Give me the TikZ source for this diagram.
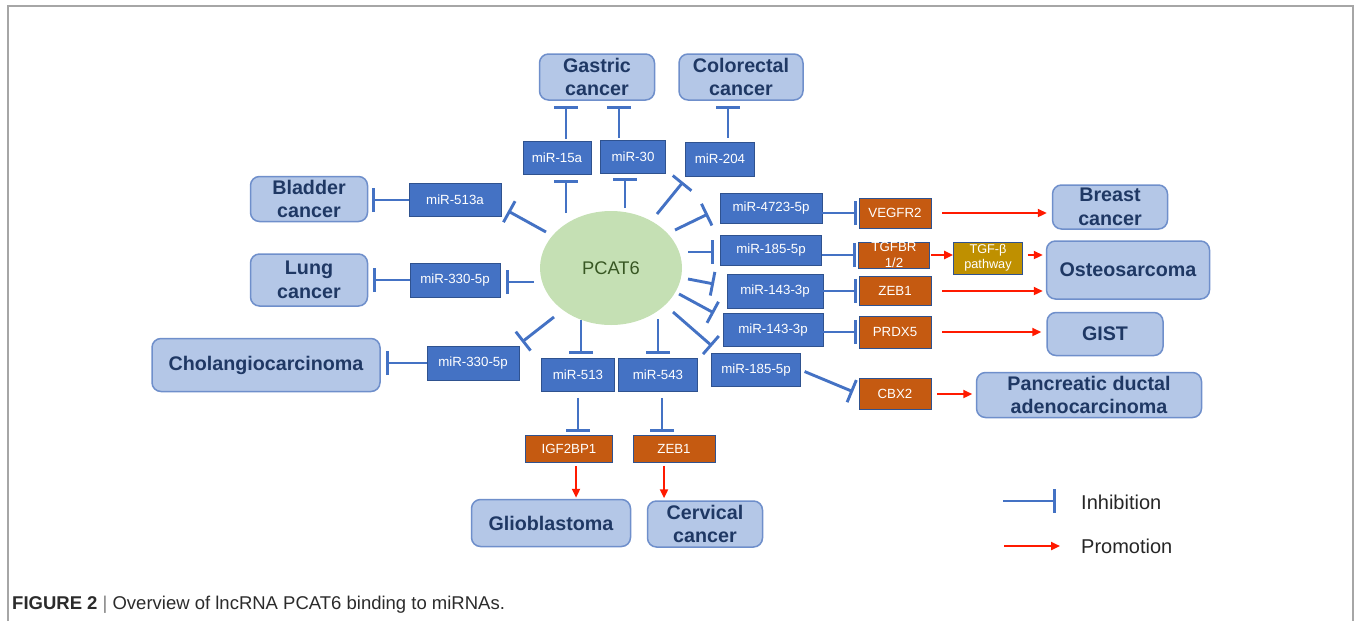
\documentclass[tikz,border=0pt]{standalone}
\usepackage{fontspec}
\setmainfont{Liberation Sans}
\usetikzlibrary{arrows.meta,shapes.geometric,calc}
\definecolor{mirblue}{HTML}{4472C4}
\definecolor{mirborder}{HTML}{2F528F}
\definecolor{orangebox}{HTML}{C55A11}
\definecolor{goldbox}{HTML}{BF9000}
\definecolor{disfill}{HTML}{B4C7E7}
\definecolor{disborder}{HTML}{6F8FCB}
\definecolor{navy}{HTML}{1F3864}
\definecolor{pcatfill}{HTML}{C5E0B4}
\definecolor{pcattext}{HTML}{385723}
\definecolor{framegray}{HTML}{A6A6A6}
\definecolor{promred}{HTML}{FF1A00}
\definecolor{inhblue}{HTML}{4472C4}
\definecolor{legtext}{HTML}{262626}
\definecolor{captext}{HTML}{2B2B2B}
\tikzset{
  sz/.style 2 args={minimum width=#1pt, minimum height=#2pt},
  mir/.style={rectangle, fill=mirblue, draw=mirborder, line width=0.8pt, text=white,
    font=\fontsize{13.3}{16}\selectfont, inner sep=0pt},
  gene/.style={mir, fill=orangebox, draw=mirborder},
  pathbox/.style={mir, fill=goldbox, draw=mirborder, font=\fontsize{12.7}{15}\selectfont, align=center},
  dis/.style={rectangle, rounded corners=9pt, fill=disfill, draw=disborder, line width=1.5pt,
    text=navy, font=\fontsize{19.7}{23.5}\selectfont\bfseries, align=center, inner sep=0pt},
  inh/.style={draw=inhblue, line width=2.9pt, -{Bar[width=24pt]}},
  promo/.style={draw=promred, line width=2.2pt, -{Triangle[length=9pt,width=8pt]}},
  legtxt/.style={anchor=west, text=legtext, font=\fontsize{20}{24}\selectfont, inner sep=0pt}
}
\begin{document}
\begin{tikzpicture}[x=1pt,y=-1pt]
\useasboundingbox (0,0) rectangle (1356,621);
% frame
\draw[framegray, line width=2pt] (8,621) -- (8,6) -- (1353,6) -- (1353,621);

% central node
\node[ellipse, fill=pcatfill, minimum width=142pt, minimum height=114pt, inner sep=0pt,
  text=pcattext, font=\fontsize{18.3}{20}\selectfont] (pcat) at (611,268) {PCAT6};

% disease boxes
\node[dis, sz={115}{46}] (gastric) at (597,77) {Gastric\\cancer};
\node[dis, sz={124}{46}] (colorectal) at (741,77) {Colorectal\\cancer};
\node[dis, sz={117}{45}] (bladder) at (309,199) {Bladder\\cancer};
\node[dis, sz={117}{52}] (lung) at (309,280) {Lung\\cancer};
\node[dis, sz={228}{53}] (cholangio) at (266,365) {Cholangiocarcinoma};
\node[dis, sz={115}{44}] (breast) at (1110,207) {Breast\\cancer};
\node[dis, sz={163}{58}] (osteo) at (1128,270) {Osteosarcoma};
\node[dis, sz={116}{43}] (gist) at (1105,334) {GIST};
\node[dis, sz={225}{45}] (pancreatic) at (1089,395) {Pancreatic ductal\\adenocarcinoma};
\node[dis, sz={159}{47}] (glio) at (551,523) {Glioblastoma};
\node[dis, sz={115}{46}] (cervical) at (705,524) {Cervical\\cancer};

% miRNA boxes
\node[mir, sz={68}{33}] (m15a) at (557,158) {miR-15a};
\node[mir, sz={65}{33}] (m30) at (633,157) {miR-30};
\node[mir, sz={69}{34}] (m204) at (720,159) {miR-204};
\node[mir, sz={102}{30}] (m4723) at (771,208) {miR-4723-5p};
\node[mir, sz={101}{30}] (m185a) at (771,250) {miR-185-5p};
\node[mir, sz={96}{34}] (m143a) at (775,291) {miR-143-3p};
\node[mir, sz={100}{33}] (m143b) at (773,330) {miR-143-3p};
\node[mir, sz={89}{33}] (m185b) at (756,370) {miR-185-5p};
\node[mir, sz={92}{33}] (m513a) at (455,200) {miR-513a};
\node[mir, sz={90}{34}] (m330a) at (455,280) {miR-330-5p};
\node[mir, sz={92}{34}] (m330b) at (473,363) {miR-330-5p};
\node[mir, sz={73}{33}] (m513) at (578,375) {miR-513};
\node[mir, sz={79}{33}] (m543) at (658,375) {miR-543};

% gene boxes
\node[gene, sz={72}{30}] (vegfr2) at (895,213) {VEGFR2};
\node[gene, sz={71}{26}, align=center, font=\fontsize{13.3}{15.5}\selectfont] (tgfbr) at (894,255) {TGFBR\\1/2};
\node[gene, sz={72}{29}] (zeb1r) at (895,291) {ZEB1};
\node[gene, sz={72}{32}] (prdx5) at (895,332) {PRDX5};
\node[gene, sz={72}{31}] (cbx2) at (895,394) {CBX2};
\node[gene, sz={87}{27}] (igf2bp1) at (569,449) {IGF2BP1};
\node[gene, sz={82}{27}] (zeb1b) at (674,449) {ZEB1};
\node[pathbox, sz={69}{32}] (tgfb) at (988,258) {TGF-β\\pathway};

% coordinates for connectors leaving PCAT6
\coordinate (s15a) at (566,213);  \coordinate (e15a) at (566,180);
\coordinate (s30) at (625,208);   \coordinate (e30) at (625,178);
\coordinate (s204) at (657,214);  \coordinate (e204) at (683,182);
\coordinate (s4723) at (675,230); \coordinate (e4723) at (708,214);
\coordinate (s185a) at (688,252); \coordinate (e185a) at (714,252);
\coordinate (s143a) at (688,279); \coordinate (e143a) at (714,284);
\coordinate (s143b) at (679,294); \coordinate (e143b) at (714,313);
\coordinate (s185b) at (673,312); \coordinate (e185b) at (712,346);
\coordinate (s513a) at (546,232); \coordinate (e513a) at (508,211);
\coordinate (s330a) at (534,282); \coordinate (e330a) at (506,282);
\coordinate (s330b) at (554,317); \coordinate (e330b) at (522,342);
\coordinate (s513) at (581,320);  \coordinate (e513) at (581,354);
\coordinate (s543) at (658,319);  \coordinate (e543) at (658,354);

\draw[inh] (s15a) -- (e15a);
\draw[inh] (s30) -- (e30);
\draw[inh] (s204) -- (e204);
\draw[inh] (s4723) -- (e4723);
\draw[inh] (s185a) -- (e185a);
\draw[inh] (s143a) -- (e143a);
\draw[inh] (s143b) -- (e143b);
\draw[inh] (s185b) -- (e185b);
\draw[inh] (s513a) -- (e513a);
\draw[inh] (s330a) -- (e330a);
\draw[inh] (s330b) -- (e330b);
\draw[inh] (s513) -- (e513);
\draw[inh] (s543) -- (e543);

% miRNA -> target inhibitions
\draw[inh, shorten <=2pt, shorten >=5pt] ([xshift=9pt]m15a.north) -- ([xshift=9pt]m15a.north |- gastric.south);
\draw[inh, shorten <=2pt, shorten >=5pt] ([xshift=-14pt]m30.north) -- ([xshift=-14pt]m30.north |- gastric.south);
\draw[inh, shorten <=4pt, shorten >=5pt] ([xshift=8pt]m204.north) -- ([xshift=8pt]m204.north |- colorectal.south);
\draw[inh, shorten >=2pt] (m4723.east |- vegfr2) -- (vegfr2.west);
\draw[inh, shorten >=2pt] (m185a.east |- tgfbr) -- (tgfbr.west);
\draw[inh, shorten >=2pt] (m143a.east |- zeb1r) -- (zeb1r.west);
\draw[inh, shorten >=2pt] (m143b.east |- prdx5) -- (prdx5.west);
\draw[inh, shorten <=4pt, shorten >=6pt] (m185b.east) -- (cbx2.west);
\draw[inh, shorten >=4pt] (m513a.west) -- (m513a.west -| bladder.east);
\draw[inh, shorten >=4.5pt] (m330a.west) -- (m330a.west -| lung.east);
\draw[inh, shorten >=5pt] (m330b.west) -- (m330b.west -| cholangio.east);
\draw[inh, shorten <=6pt, shorten >=3.5pt] (m513.south) -- (m513.south |- igf2bp1.north);
\draw[inh, shorten <=6pt, shorten >=3.5pt] ([xshift=4pt]m543.south) -- ([xshift=4pt]m543.south |- zeb1b.north);

% promotions
\draw[promo, shorten <=11pt, shorten >=5pt] (vegfr2.east) -- (vegfr2.east -| breast.west);
\draw[promo, shorten <=1.5pt] (tgfbr.east) -- (tgfbr.east -| tgfb.west);
\draw[promo, shorten <=5pt, shorten >=3pt] (tgfb.east |- tgfbr) -- (tgfbr -| osteo.west);
\draw[promo, shorten <=11pt, shorten >=3pt] (zeb1r.east) -- (zeb1r.east -| osteo.west);
\draw[promo, shorten <=11pt, shorten >=5pt] (prdx5.east) -- (prdx5.east -| gist.west);
\draw[promo, shorten <=6pt, shorten >=3.5pt] (cbx2.east) -- (cbx2.east -| pancreatic.west);
\draw[promo, shorten <=3.5pt, shorten >=1pt] ([xshift=7pt]igf2bp1.south) -- ([xshift=7pt]igf2bp1.south |- glio.north);
\draw[promo, shorten <=3pt, shorten >=2pt] ([xshift=-10pt]zeb1b.south) -- ([xshift=-10pt]zeb1b.south |- cervical.north);

% legend
\coordinate (li1) at (1003,501); \coordinate (li2) at (1056,501);
\coordinate (lp1) at (1004,546); \coordinate (lp2) at (1060,546);
\draw[inh] (li1) -- (li2);
\draw[promo] (lp1) -- (lp2);
\node[legtxt] (linh) at (1081,502) {Inhibition};
\node[legtxt] (lprom) at (1081,546) {Promotion};

% caption
\node[anchor=base west, inner sep=0pt, text=captext, font=\fontsize{18.5}{20}\selectfont] (cap) at (12,609)
  {\textbf{FIGURE 2} \textcolor{gray}{|} Overview of lncRNA PCAT6 binding to miRNAs.};
\end{tikzpicture}
\end{document}
